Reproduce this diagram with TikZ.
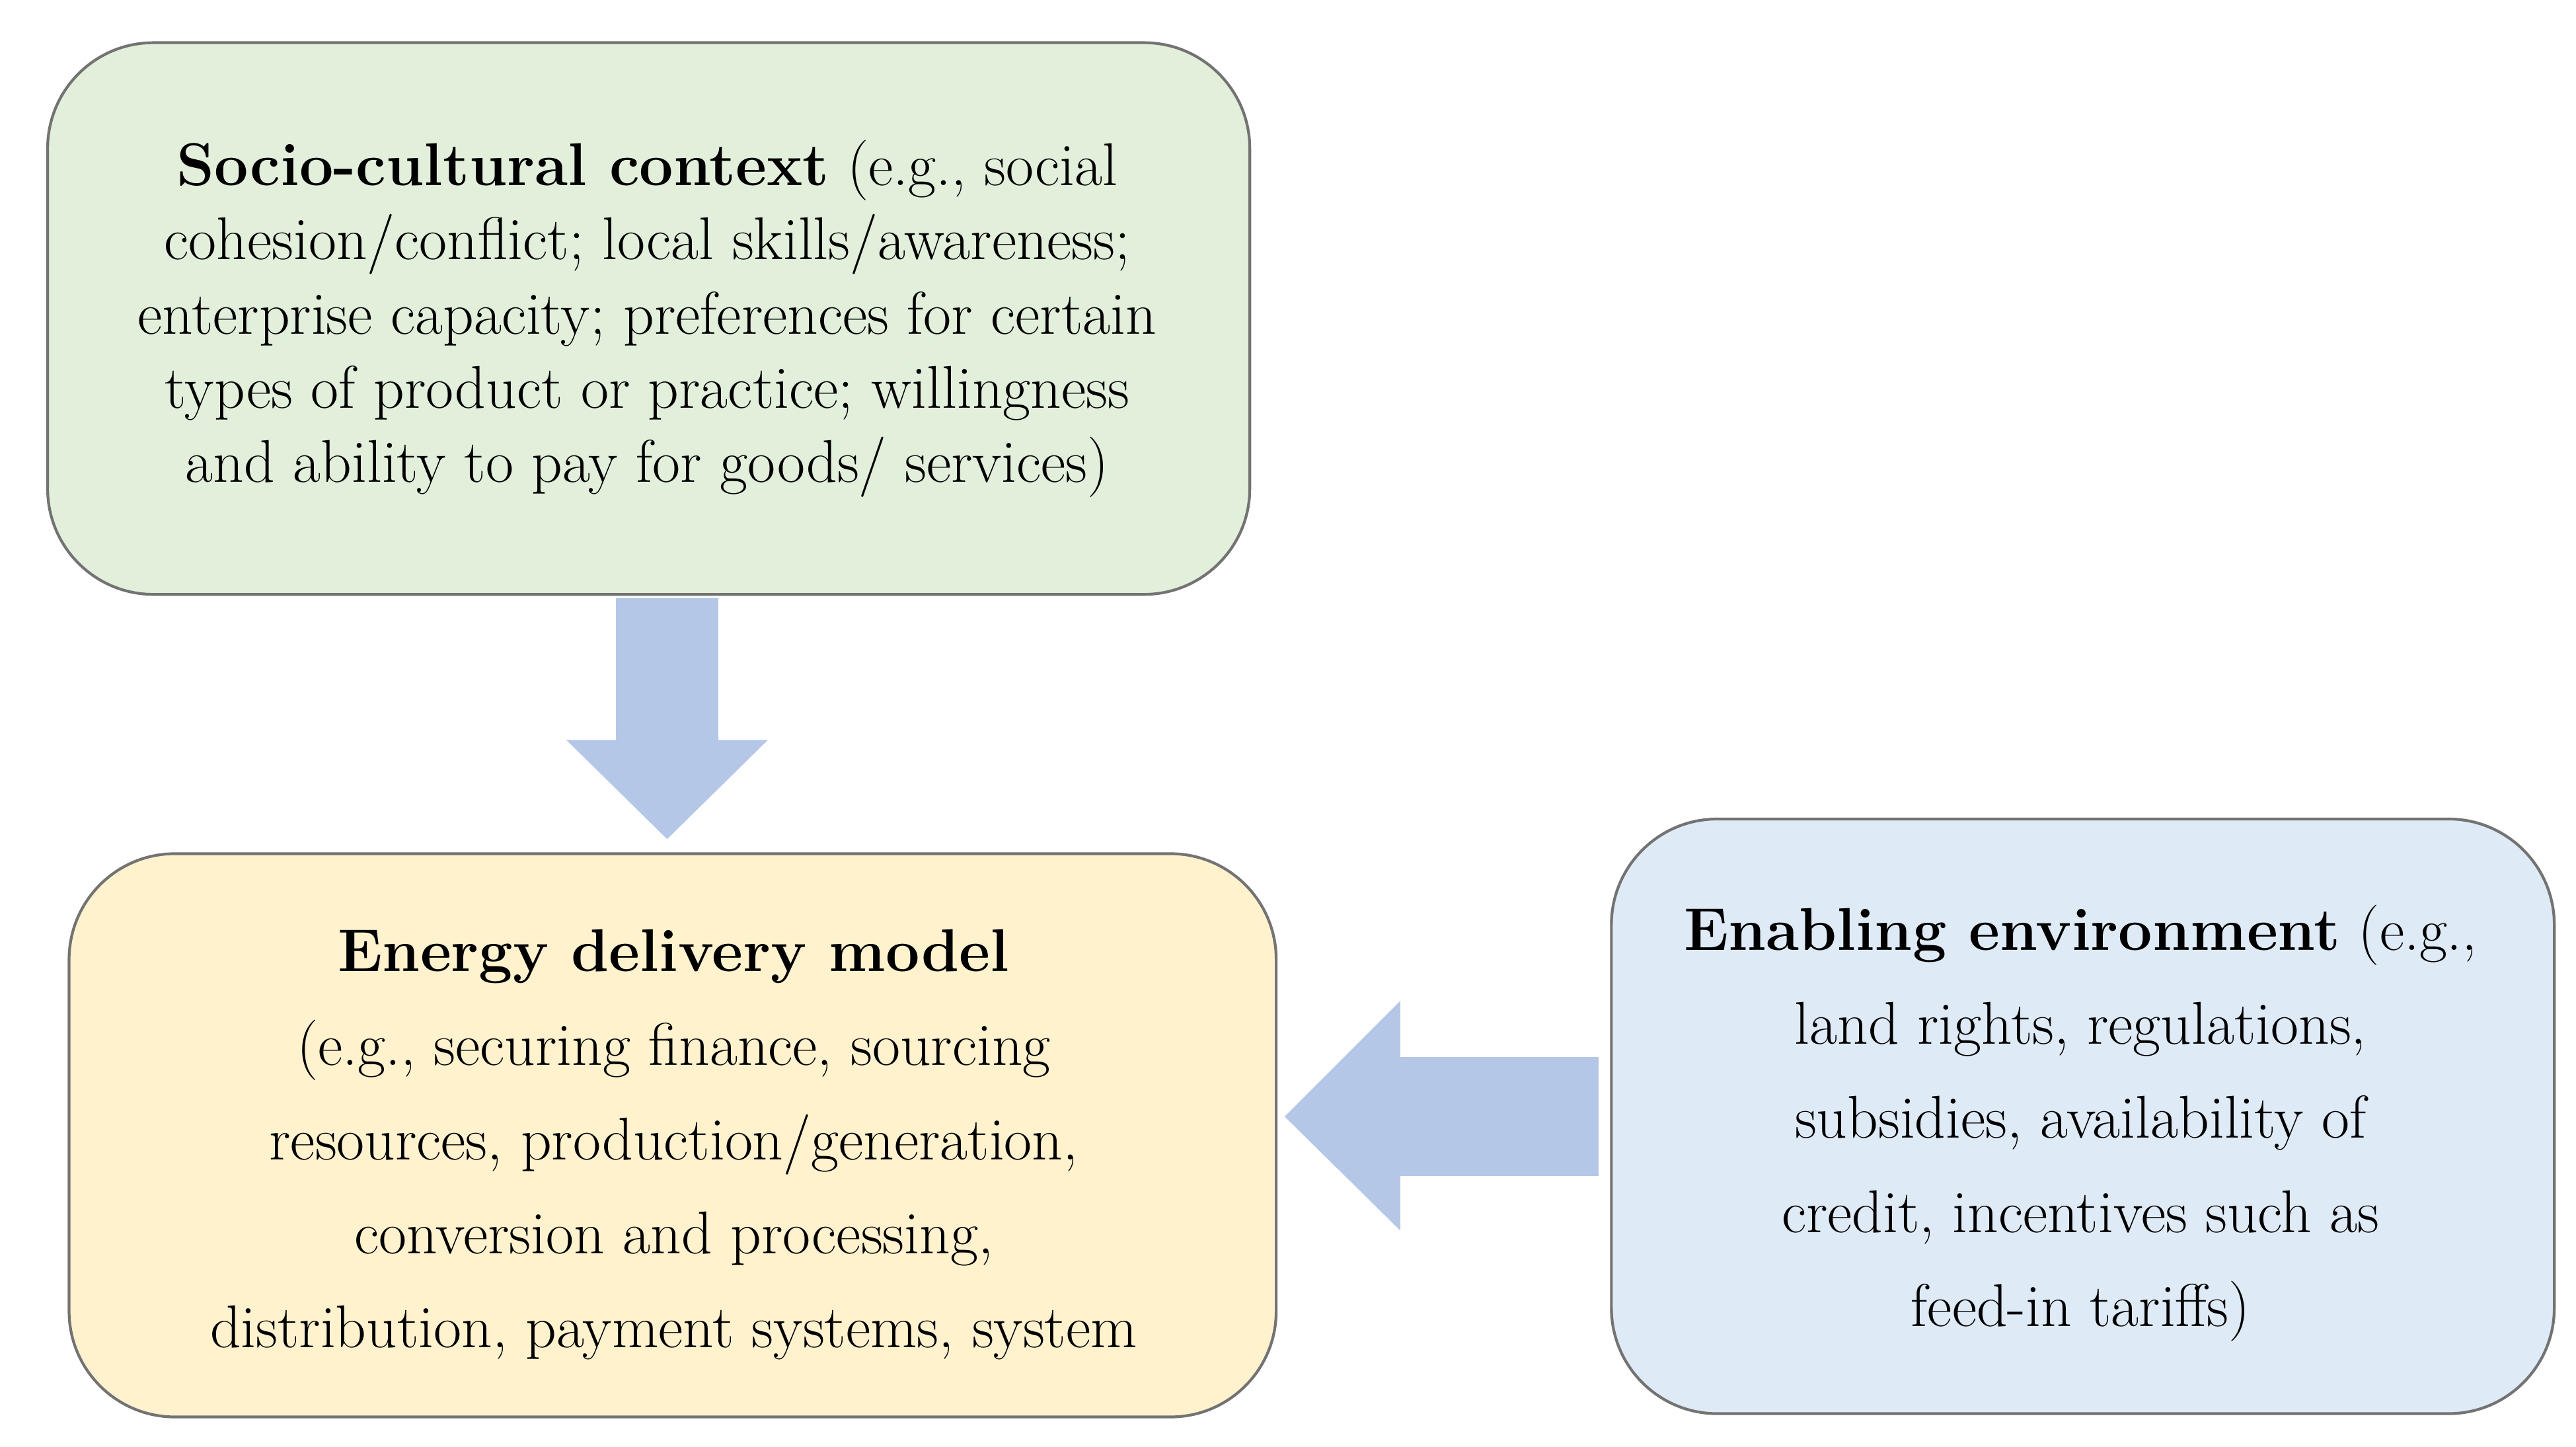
\documentclass[tikz,border=0pt]{standalone}
\begin{document}
\begin{tikzpicture}[x=0.025cm,y=-0.025cm,
 box/.style={draw=black!55,line width=1.2pt,rounded corners=1.6cm,align=center,inner sep=0pt},
 txt/.style={align=center,font=\fontsize{26}{32}\selectfont}]
\fill[white] (0,0) rectangle (1560,876);
\definecolor{ac}{HTML}{B4C7E7}
\node[box,fill={rgb,255:red,226;green,239;blue,218},minimum width=728*0.025cm,minimum height=334*0.025cm,anchor=north west] (s) at (28,25) {};
\node[box,fill={rgb,255:red,255;green,242;blue,204},minimum width=731*0.025cm,minimum height=341*0.025cm,anchor=north west] (e) at (41,516) {};
\node[box,fill={rgb,255:red,222;green,235;blue,247},minimum width=571*0.025cm,minimum height=360*0.025cm,anchor=north west] (n) at (975,495) {};
\node[txt] (st) at (392,193) {\textbf{Socio-cultural context} (e.g., social\\cohesion/conflict; local skills/awareness;\\enterprise capacity; preferences for certain\\types of product or practice; willingness\\and ability to pay for goods/ services)};
\node[txt,font=\fontsize{26}{40.5}\selectfont] (et) at (408,693) {\textbf{Energy delivery model}\\(e.g., securing finance, sourcing\\resources, production/generation,\\conversion and processing,\\distribution, payment systems, system};
\node[txt,font=\fontsize{26}{40.5}\selectfont] (nt) at (1260,680) {\textbf{Enabling environment} (e.g.,\\land rights, regulations,\\subsidies, availability of\\credit, incentives such as\\feed-in tariffs)};
\fill[ac] (373,362) -- (435,362) -- (435,448) -- (465,448) -- (404,508) -- (343,448) -- (373,448) -- cycle;
\fill[ac] (968,640) -- (848,640) -- (848,606) -- (778,676) -- (848,745) -- (848,712) -- (968,712) -- cycle;
\end{tikzpicture}
\end{document}
